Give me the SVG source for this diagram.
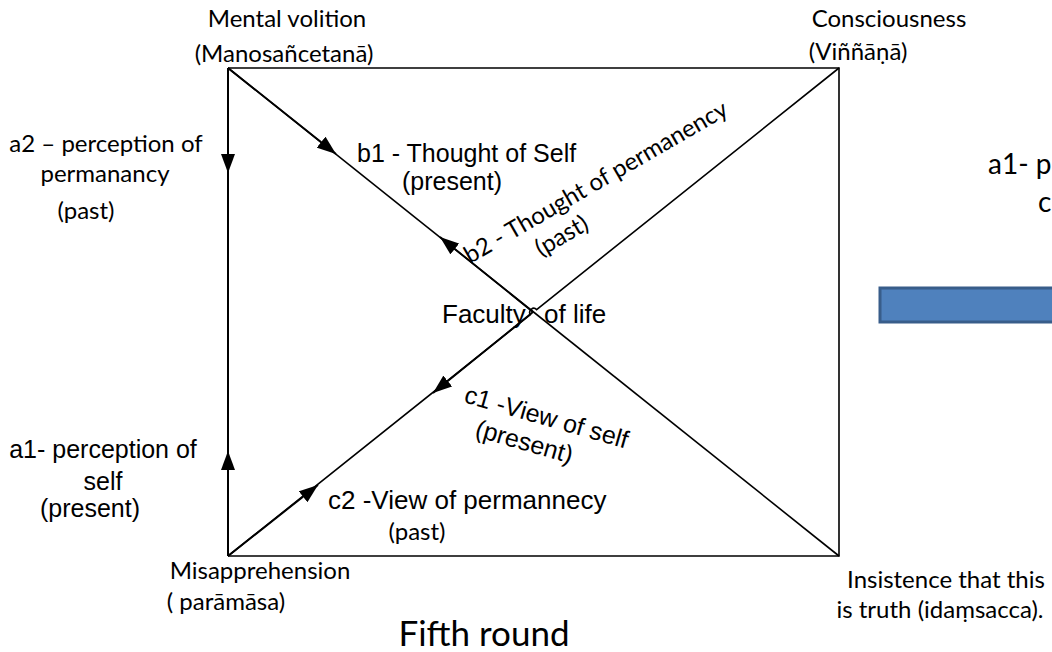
<svg xmlns="http://www.w3.org/2000/svg" width="1052" height="652" viewBox="0 0 1052 652">
  <style>
    .frame { fill: none; stroke: #000; stroke-width: 1.6; }
    .edge { fill: none; stroke: #000; stroke-width: 2; }
    .conn { fill: none; stroke: #000; stroke-width: 1.8; marker-end: url(#tri); }
    .cal { font-family: Lato, "Open Sans", sans-serif; font-size: 24px; fill: #000; }
    .ari { font-family: "Liberation Sans", Arial, sans-serif; font-size: 25px; fill: #000; }
    .mid { text-anchor: middle; }
    .big { font-size: 35px; }
    .side { font-size: 28px; }
    .c2 { font-size: 26px; }
    .fac { font-size: 26px; }
  </style>
  <defs>
    <marker id="tri" markerUnits="userSpaceOnUse" markerWidth="19" markerHeight="14" refX="19" refY="7" orient="auto">
      <path d="M0,0 L19,7 L0,14 z" fill="#000"/>
    </marker>
  </defs>

  <rect width="1052" height="652" fill="#fff"/>

  <!-- outer frame and the two diagonals (one hops over the other at the centre) -->
  <g id="frame">
    <path class="frame" d="M228,68 H839 V556 H228"/>
    <path class="edge" d="M228,68 V556"/>
    <path class="frame" d="M228,68 L839,556"/>
    <path class="frame" d="M228,556 L530.4,314.6 A4,4 0 0 1 536.6,309.6 L839,68"/>
  </g>

  <!-- directed connectors -->
  <g id="connectors">
    <line class="conn" x1="228" y1="68" x2="228" y2="173"/>
    <line class="conn" x1="228" y1="556" x2="228" y2="451"/>
    <line class="conn" x1="228" y1="68" x2="336" y2="154"/>
    <line class="conn" x1="533" y1="312" x2="440" y2="237"/>
    <line class="conn" x1="533" y1="312" x2="433" y2="393"/>
    <line class="conn" x1="228" y1="556" x2="318" y2="485"/>
  </g>

  <g id="node-mental-volition">
    <text class="cal mid" x="287" y="27">Mental volition</text>
    <text class="cal mid" x="284" y="62">(Manosañcetanā)</text>
  </g>

  <g id="node-consciousness">
    <text class="cal mid" x="889" y="27">Consciousness</text>
    <text class="cal mid" x="858" y="60">(Viññāṇā)</text>
  </g>

  <g id="node-a2">
    <text class="cal mid" x="106" y="152">a2 – perception of</text>
    <text class="cal mid" x="105" y="182">permanancy</text>
    <text class="cal mid" x="86" y="219">(past)</text>
  </g>

  <g id="node-b1">
    <text class="ari" x="357" y="162">b1 - Thought of Self</text>
    <text class="ari mid" x="452" y="190">(present)</text>
  </g>

  <g id="node-b2">
    <text class="cal" transform="translate(470,264) rotate(-30)">b2 - Thought of permanency</text>
    <text class="cal" transform="translate(541,257) rotate(-30)">(past)</text>
  </g>

  <g id="node-faculty">
    <text class="ari fac" x="442" y="323">Faculty</text>
    <text class="ari fac" x="544" y="323">of life</text>
  </g>

  <g id="node-c1">
    <text class="ari" transform="translate(463,402) rotate(16)">c1 -View of self</text>
    <text class="ari" transform="translate(474,436) rotate(16)">(present)</text>
  </g>

  <g id="node-c2">
    <text class="ari c2" x="328" y="509">c2 -View of permannecy</text>
    <text class="cal mid" x="417" y="540">(past)</text>
  </g>

  <g id="node-a1">
    <text class="ari mid" x="103" y="458">a1- perception of</text>
    <text class="ari mid" x="103" y="490">self</text>
    <text class="ari mid" x="90" y="517">(present)</text>
  </g>

  <g id="node-misapprehension">
    <text class="cal mid" x="260" y="579">Misapprehension</text>
    <text class="cal mid" x="226" y="610">( parāmāsa)</text>
  </g>

  <g id="node-insistence">
    <text class="cal mid" x="946" y="588">Insistence that this</text>
    <text class="cal mid" x="940" y="618">is truth (idaṃsacca).</text>
  </g>

  <g id="node-title">
    <text class="cal big mid" x="484" y="646">Fifth round</text>
  </g>

  <g id="node-right">
    <text class="cal side" x="988" y="174">a1- p</text>
    <text class="cal side" x="1038" y="212">c</text>
    <rect x="880" y="288" width="180" height="34" fill="#4F81BD" stroke="#385D8A" stroke-width="3"/>
  </g>
</svg>
